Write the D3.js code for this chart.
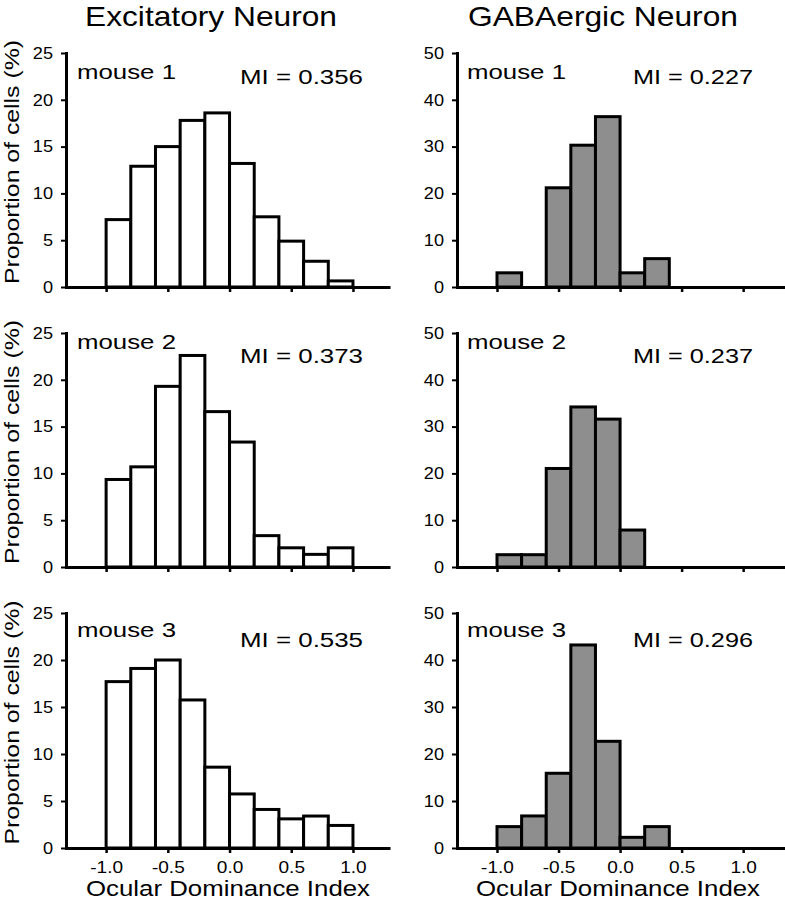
<!DOCTYPE html>
<html>
<head>
<meta charset="utf-8">
<script src="https://cdn.jsdelivr.net/npm/d3@7"></script>
<style>
  html, body { margin: 0; padding: 0; background: #fff; }
  svg { display: block; font-family: "Liberation Sans", Arial, sans-serif; }
</style>
</head>
<body>
<svg id="chart" width="785" height="900"></svg>
<script>
// ---------------- data ----------------
const columnTitles = ["Excitatory Neuron", "GABAergic Neuron"];
const mouseLabels = ["mouse 1", "mouse 2", "mouse 3"];
const binEdges = [-1.0, -0.8, -0.6, -0.4, -0.2, 0.0, 0.2, 0.4, 0.6, 0.8, 1.0];

const excMouse1 = [7.2, 12.9, 15.0, 17.8, 18.6, 13.2, 7.5, 4.9, 2.75, 0.65];
const excMouse2 = [9.35, 10.7, 19.3, 22.6, 16.6, 13.35, 3.35, 2.05, 1.35, 2.05];
const excMouse3 = [17.7, 19.1, 20.0, 15.75, 8.6, 5.75, 4.1, 3.1, 3.4, 2.4];
const gabaMouse1 = [3.03, 0, 21.2, 30.3, 36.4, 3.03, 6.06, 0, 0, 0];
const gabaMouse2 = [2.63, 2.63, 21.05, 34.2, 31.6, 7.9, 0, 0, 0, 0];
const gabaMouse3 = [4.55, 6.82, 15.9, 43.2, 22.7, 2.27, 4.55, 0, 0, 0];

const excMI = ["MI = 0.356", "MI = 0.373", "MI = 0.535"];
const gabaMI = ["MI = 0.227", "MI = 0.237", "MI = 0.296"];

const excYTicks = [0, 5, 10, 15, 20, 25];
const gabaYTicks = [0, 10, 20, 30, 40, 50];
const xTicks = [-1.0, -0.5, 0.0, 0.5, 1.0];
const xTickLabels = ["-1.0", "-0.5", "0.0", "0.5", "1.0"];
const yLabel = "Proportion of cells (%)";
const xLabel = "Ocular Dominance Index";

// ---------------- layout ----------------
const svg = d3.select("#chart");
svg.append("rect").attr("width", 785).attr("height", 900).attr("fill", "#fff");

const rowTop = [53, 333, 613];
const rowBottom = [287, 567, 848];
const mouseOffset = [26, 16, 24];
const miOffset = [31, 30, 34];

const columns = [
  { title: columnTitles[0], titleX: 211, titleW: 252, series: [excMouse1, excMouse2, excMouse3],
    mi: excMI, yTicks: excYTicks, yMax: 25, fill: "#ffffff",
    xDomain: [-1.325, 1.3], xRange: [66, 390], mouseX: 77, miX: 240, miW: 123, xLabelX: 228 },
  { title: columnTitles[1], titleX: 603, titleW: 270, series: [gabaMouse1, gabaMouse2, gabaMouse3],
    mi: gabaMI, yTicks: gabaYTicks, yMax: 50, fill: "#8e8e8e",
    xDomain: [-1.325, 1.34], xRange: [457, 785], mouseX: 467, miX: 633, miW: 120, xLabelX: 618 }
];

function stretch(sel, factor) {
  sel.each(function () {
    const w = this.getComputedTextLength();
    d3.select(this).attr("textLength", w * factor).attr("lengthAdjust", "spacingAndGlyphs");
  });
}
function fit(sel, width) {
  sel.attr("textLength", width).attr("lengthAdjust", "spacingAndGlyphs");
}

columns.forEach((col, ci) => {
  // column title
  svg.append("text")
    .attr("x", col.titleX).attr("y", 26)
    .attr("text-anchor", "middle")
    .attr("font-size", 28)
    .text(col.title)
    .call(fit, col.titleW);

  const x = d3.scaleLinear().domain(col.xDomain).range(col.xRange);

  col.series.forEach((vals, ri) => {
    const y = d3.scaleLinear().domain([0, col.yMax]).range([rowBottom[ri], rowTop[ri]]);
    const g = svg.append("g");

    const bins = vals.map((v, i) => ({ x0: binEdges[i], x1: binEdges[i + 1], v }))
      .filter(d => d.v > 0);

    g.selectAll("rect.bar").data(bins).join("rect")
      .attr("class", "bar")
      .attr("x", d => x(d.x0))
      .attr("width", d => x(d.x1) - x(d.x0))
      .attr("y", d => y(d.v))
      .attr("height", d => y(0) - y(d.v))
      .attr("fill", col.fill)
      .attr("stroke", "#000")
      .attr("stroke-width", 3);

    // y axis
    const yAxis = d3.axisLeft(y).tickValues(col.yTicks).tickSize(5).tickSizeOuter(0).tickPadding(8)
      .tickFormat(d3.format("d"));
    const ya = g.append("g").attr("transform", `translate(${col.xRange[0]},0)`).call(yAxis);
    ya.select(".domain").attr("stroke", "#000").attr("stroke-width", 3).attr("stroke-linecap", "square");
    ya.selectAll(".tick line").attr("stroke", "#000").attr("stroke-width", 2);
    ya.selectAll(".tick text").attr("font-size", 16.5).attr("fill", "#000")
      .attr("font-family", "Liberation Sans, Arial, sans-serif").call(stretch, 1.1);

    // x axis
    const xAxis = d3.axisBottom(x).tickValues(xTicks).tickSize(5).tickSizeOuter(0).tickPadding(8)
      .tickFormat((d, i) => ri === 2 ? xTickLabels[i] : "");
    const xa = g.append("g").attr("transform", `translate(0,${rowBottom[ri]})`).call(xAxis);
    xa.select(".domain").attr("stroke", "#000").attr("stroke-width", 3);
    xa.selectAll(".tick line").attr("stroke", "#000").attr("stroke-width", 2.5);
    xa.selectAll(".tick text").attr("font-size", 17).attr("fill", "#000")
      .attr("font-family", "Liberation Sans, Arial, sans-serif").call(stretch, 1.12);

    // labels
    g.append("text")
      .attr("x", col.mouseX).attr("y", rowTop[ri] + mouseOffset[ri])
      .attr("font-size", 20.5)
      .text(mouseLabels[ri])
      .call(fit, 99);
    g.append("text")
      .attr("x", col.miX).attr("y", rowTop[ri] + miOffset[ri])
      .attr("font-size", 20.5)
      .text(col.mi[ri])
      .call(fit, col.miW);

    if (ci === 0) {
      const cy = (rowTop[ri] + rowBottom[ri]) / 2 - 8;
      g.append("text")
        .attr("transform", `translate(19,${cy}) rotate(-90)`)
        .attr("text-anchor", "middle")
        .attr("font-size", 20.5)
        .text(yLabel)
        .call(fit, 244);
    }
  });

  svg.append("text")
    .attr("x", col.xLabelX).attr("y", 896)
    .attr("text-anchor", "middle")
    .attr("font-size", 22)
    .text(xLabel)
    .call(fit, 284);
});
</script>
</body>
</html>
